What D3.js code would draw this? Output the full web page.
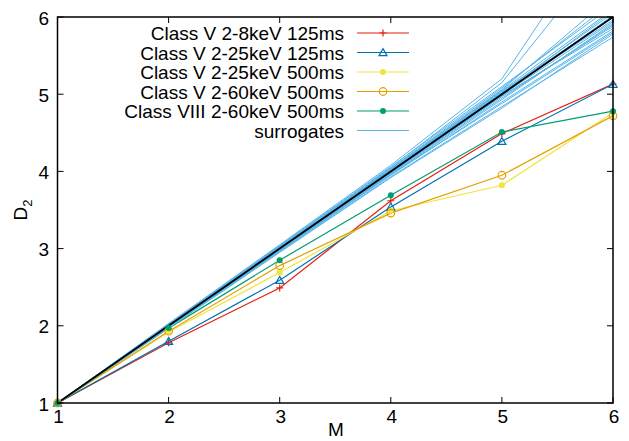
<!DOCTYPE html>
<html>
<head>
<meta charset="utf-8">
<script src="https://cdn.jsdelivr.net/npm/d3@7"></script>
<style>
  body { margin: 0; background: #fff; }
  text { font-family: "Liberation Sans", Arial, sans-serif; fill: #000; }
</style>
</head>
<body>
<div id="chart"></div>
<script>
// embedding dimension
var M = [1, 2, 3, 4, 5, 6];
var xTicks = [1, 2, 3, 4, 5, 6];
var yTicks = [1, 2, 3, 4, 5, 6];

var classV_2_8_125 = [1, 1.78, 2.49, 3.62, 4.49, 5.13];
var classV_2_25_125 = [1, 1.80, 2.59, 3.54, 4.39, 5.13];
var classV_2_25_500 = [1, 1.92, 2.69, 3.49, 3.82, 4.76];
var classV_2_60_500 = [1, 1.93, 2.78, 3.46, 3.95, 4.72];
var classVIII_2_60_500 = [1, 1.97, 2.85, 3.69, 4.51, 4.78];
var identity = [1, 2, 3, 4, 5, 6];

var surrogates = [
	[1, 2.00, 3.00, 4.00, 5.00, 6.02],
	[1, 2.01, 3.02, 4.03, 5.05, 6.10],
	[1, 1.99, 2.98, 3.97, 4.95, 5.90],
	[1, 2.02, 3.04, 4.06, 5.10, 6.15],
	[1, 1.98, 2.97, 3.95, 4.90, 5.82],
	[1, 2.01, 3.01, 4.02, 5.02, 5.96],
	[1, 2.00, 2.99, 3.98, 4.97, 5.88],
	[1, 2.03, 3.05, 4.08, 5.20, 7.36],
	[1, 2.02, 3.03, 4.05, 5.15, 6.95],
	[1, 1.98, 2.96, 3.93, 4.84, 5.74],
	[1, 2.01, 3.02, 4.03, 5.06, 6.28],
	[1, 1.99, 2.99, 3.99, 4.99, 5.94],
	[1, 2.00, 3.01, 4.01, 5.03, 6.05],
	[1, 1.97, 2.95, 3.92, 4.82, 5.78],
	[1, 2.02, 3.02, 4.04, 5.08, 6.20],
	[1, 2.00, 3.00, 3.99, 4.98, 5.85],
	[1, 2.01, 3.03, 4.02, 5.04, 5.99],
	[1, 1.99, 2.98, 3.96, 4.93, 5.92],
	[1, 2.01, 3.00, 4.01, 5.01, 6.08],
	[1, 1.98, 2.97, 3.96, 4.88, 5.80]
];

var series = [
	{ name: "Class V 2-8keV 125ms", values: classV_2_8_125, color: "#e51e10", marker: "plus" },
	{ name: "Class V 2-25keV 125ms", values: classV_2_25_125, color: "#0072b2", marker: "triangle" },
	{ name: "Class V 2-25keV 500ms", values: classV_2_25_500, color: "#f0e442", marker: "dot" },
	{ name: "Class V 2-60keV 500ms", values: classV_2_60_500, color: "#e69f00", marker: "circle" },
	{ name: "Class VIII 2-60keV 500ms", values: classVIII_2_60_500, color: "#009e73", marker: "dot" }
];
var surrColor = "#56b4e9";

var width = 629, height = 441;
var mLeft = 57.5, mRight = 613, mTop = 17, mBottom = 403;
var fs = 19;

var svg = d3.select("#chart").append("svg")
	.attr("width", width)
	.attr("height", height);

var x = d3.scaleLinear().domain([1, 6]).range([mLeft, mRight]);
var y = d3.scaleLinear().domain([1, 6]).range([mBottom, mTop]);

svg.append("clipPath").attr("id", "clip")
	.append("rect")
	.attr("x", mLeft).attr("y", mTop)
	.attr("width", mRight - mLeft).attr("height", mBottom - mTop);

var line = d3.line()
	.x((d, i) => x(M[i]))
	.y(d => y(d));

function drawMarker(g, type, color, cx, cy) {
	if (type == "plus") {
		g.append("path")
			.attr("d", `M${cx-3.5},${cy}H${cx+3.5}M${cx},${cy-3.5}V${cy+3.5}`)
			.attr("stroke", color).attr("stroke-width", 1.2);
	} else if (type == "triangle") {
		g.append("path")
			.attr("d", d3.symbol().type(d3.symbolTriangle).size(28)())
			.attr("transform", `translate(${cx},${cy + 0.8})`)
			.attr("fill", "none").attr("stroke", color).attr("stroke-width", 1.2);
	} else if (type == "circle") {
		g.append("circle").attr("cx", cx).attr("cy", cy).attr("r", 3.8)
			.attr("fill", "none").attr("stroke", color).attr("stroke-width", 1.2);
	} else if (type == "dot") {
		g.append("circle").attr("cx", cx).attr("cy", cy).attr("r", 3)
			.attr("fill", color);
	}
}

var plot = svg.append("g").attr("clip-path", "url(#clip)");

// class lines
series.forEach(function(s) {
	plot.append("path")
		.datum(s.values)
		.attr("d", line)
		.attr("fill", "none")
		.attr("stroke", s.color)
		.attr("stroke-width", 1.2);
});

// surrogates
plot.selectAll(".surr")
	.data(surrogates)
	.enter()
	.append("path")
	.attr("class", "surr")
	.attr("d", line)
	.attr("fill", "none")
	.attr("stroke", surrColor)
	.attr("stroke-width", 1);

plot.append("path")
	.datum(identity)
	.attr("d", line)
	.attr("fill", "none")
	.attr("stroke", "#000")
	.attr("stroke-width", 1.8);

// markers
var mk = svg.append("g");
series.forEach(function(s) {
	s.values.forEach(function(v, i) {
		drawMarker(mk, s.marker, s.color, x(M[i]), y(v));
	});
});

// frame and ticks
var ax = svg.append("g");
xTicks.forEach(function(t) {
	ax.append("line").attr("x1", x(t)).attr("x2", x(t)).attr("y1", mBottom).attr("y2", mBottom - 6)
		.attr("stroke", "#000").attr("stroke-width", 1);
	ax.append("line").attr("x1", x(t)).attr("x2", x(t)).attr("y1", mTop).attr("y2", mTop + 6)
		.attr("stroke", "#000").attr("stroke-width", 1);
	ax.append("text").attr("x", x(t) + 1).attr("y", 423)
		.attr("text-anchor", "middle").attr("font-size", fs).text(t);
});
yTicks.forEach(function(t) {
	ax.append("line").attr("x1", mLeft).attr("x2", mLeft + 6).attr("y1", y(t)).attr("y2", y(t))
		.attr("stroke", "#000").attr("stroke-width", 1);
	ax.append("line").attr("x1", mRight).attr("x2", mRight - 6).attr("y1", y(t)).attr("y2", y(t))
		.attr("stroke", "#000").attr("stroke-width", 1);
	ax.append("text").attr("x", 49).attr("y", y(t) + 7.5)
		.attr("text-anchor", "end").attr("font-size", fs).text(t);
});
ax.append("rect")
	.attr("x", mLeft).attr("y", mTop)
	.attr("width", mRight - mLeft).attr("height", mBottom - mTop)
	.attr("fill", "none").attr("stroke", "#000").attr("stroke-width", 1.5);

// axis labels
svg.append("text")
	.attr("x", 336).attr("y", 436)
	.attr("text-anchor", "middle").attr("font-size", fs).text("M");

var yl = svg.append("text")
	.attr("transform", "translate(27,210) rotate(-90)")
	.attr("text-anchor", "middle").attr("font-size", fs);
yl.append("tspan").text("D");
yl.append("tspan").attr("font-size", 13).attr("dy", 5).text("2");

// legend
var legendItems = series.concat([{ name: "surrogates", color: surrColor, marker: null }]);
var lg = svg.append("g");
legendItems.forEach(function(s, i) {
	var ly = 33 + i * 19.5;
	lg.append("text").attr("x", 344).attr("y", ly + 7)
		.attr("text-anchor", "end").attr("font-size", fs).text(s.name);
	lg.append("line").attr("x1", 357).attr("x2", 409).attr("y1", ly).attr("y2", ly)
		.attr("stroke", s.color).attr("stroke-width", s.marker ? 1.2 : 1);
	if (s.marker) drawMarker(lg, s.marker, s.color, 383, ly);
});
</script>
</body>
</html>
